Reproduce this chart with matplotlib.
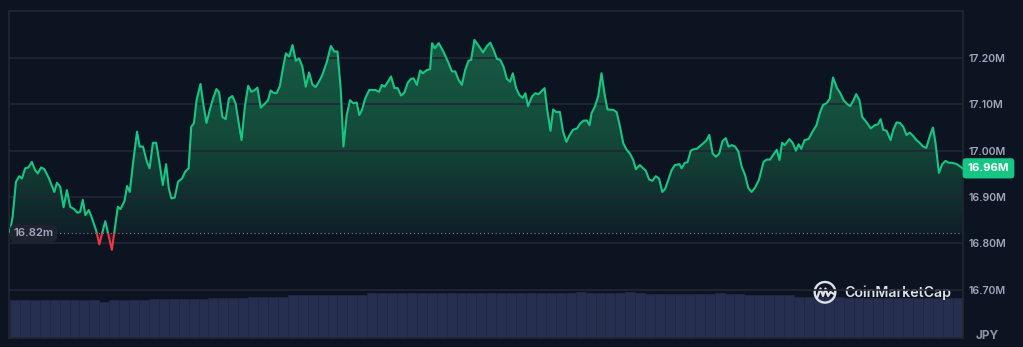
import numpy as np
import matplotlib
matplotlib.use("Agg")
import matplotlib.pyplot as plt
from matplotlib.colors import LinearSegmentedColormap
from matplotlib.patches import Rectangle, Circle
from matplotlib.path import Path
from matplotlib.transforms import blended_transform_factory

# precio en millones de JPY, tiempo en minutos desde el inicio (24 h)
minutes = [0, 4, 9, 14, 18, 23, 28, 33, 38, 42, 47, 52, 59, 67, 71, 76, 81, 86, 91, 97,
           102, 106, 110, 114, 119, 123, 130, 135, 144, 154, 163, 167, 173, 177, 181, 186, 192, 196, 201, 207,
           211, 216, 221, 226, 231, 236, 240, 244, 249, 254, 260, 265, 270, 274, 278, 282, 288, 292, 297, 302,
           307, 312, 316, 321, 326, 331, 336, 341, 345, 350, 355, 360, 365, 370, 374, 379, 385, 390, 394, 398,
           403, 408, 412, 417, 422, 427, 432, 437, 442, 447, 452, 457, 462, 467, 472, 479, 485, 490, 495, 500,
           504, 509, 514, 519, 524, 528, 532, 537, 543, 552, 558, 562, 566, 570, 576, 581, 586, 591, 596, 601,
           606, 610, 615, 620, 624, 630, 635, 638, 642, 648, 655, 662, 668, 673, 678, 683, 688, 693, 697, 702,
           709, 715, 721, 726, 731, 736, 741, 746, 751, 756, 760, 765, 770, 775, 779, 783, 789, 794, 799, 808,
           812, 817, 821, 826, 831, 836, 841, 846, 851, 857, 862, 867, 872, 876, 879, 884, 889, 894, 899, 903,
           912, 917, 922, 927, 932, 937, 942, 946, 952, 957, 961, 966, 971, 976, 981, 986, 990, 995, 1000, 1005,
           1012, 1015, 1020, 1024, 1029, 1033, 1038, 1043, 1048, 1053, 1057, 1062, 1067, 1072, 1077, 1082, 1086, 1091, 1096, 1101,
           1106, 1111, 1116, 1121, 1126, 1132, 1139, 1144, 1149, 1154, 1159, 1163, 1167, 1171, 1178, 1183, 1188, 1192, 1196, 1201,
           1207, 1213, 1219, 1224, 1229, 1234, 1239, 1244, 1250, 1255, 1260, 1265, 1270, 1275, 1279, 1284, 1288, 1295, 1301, 1307,
           1312, 1316, 1320, 1325, 1331, 1335, 1340, 1345, 1350, 1355, 1360, 1365, 1370, 1375, 1380, 1385, 1390, 1395, 1399, 1404,
           1409, 1414, 1419, 1424, 1431, 1440]

precio = [16.825, 16.858, 16.933, 16.945, 16.940, 16.962, 16.964, 16.976, 16.958, 16.951, 16.964, 16.960, 16.940, 16.911, 16.931, 16.922, 16.878, 16.915, 16.879, 16.874,
          16.866, 16.868, 16.894, 16.861, 16.872, 16.858, 16.829, 16.798, 16.848, 16.786, 16.879, 16.874, 16.891, 16.924, 16.911, 16.973, 17.041, 17.009, 17.009, 16.976,
          16.962, 17.017, 17.017, 16.973, 16.926, 16.971, 16.919, 16.897, 16.899, 16.933, 16.940, 16.955, 16.962, 17.052, 17.059, 17.109, 17.144, 17.102, 17.060, 17.088,
          17.113, 17.133, 17.126, 17.073, 17.068, 17.113, 17.118, 17.102, 17.066, 17.023, 17.095, 17.140, 17.127, 17.131, 17.136, 17.093, 17.101, 17.109, 17.130, 17.125,
          17.124, 17.140, 17.174, 17.210, 17.203, 17.228, 17.194, 17.199, 17.181, 17.138, 17.169, 17.143, 17.137, 17.149, 17.163, 17.192, 17.226, 17.214, 17.214, 17.131,
          17.009, 17.077, 17.109, 17.102, 17.104, 17.077, 17.088, 17.113, 17.131, 17.131, 17.127, 17.142, 17.138, 17.146, 17.160, 17.135, 17.135, 17.119, 17.125, 17.146,
          17.155, 17.156, 17.142, 17.173, 17.167, 17.174, 17.176, 17.232, 17.221, 17.232, 17.214, 17.192, 17.171, 17.171, 17.153, 17.142, 17.174, 17.194, 17.196, 17.239,
          17.225, 17.212, 17.226, 17.233, 17.217, 17.198, 17.196, 17.181, 17.155, 17.149, 17.167, 17.135, 17.120, 17.114, 17.124, 17.096, 17.117, 17.124, 17.122, 17.135,
          17.088, 17.043, 17.089, 17.083, 17.084, 17.041, 17.019, 17.034, 17.045, 17.048, 17.059, 17.065, 17.065, 17.055, 17.081, 17.095, 17.117, 17.167, 17.120, 17.089,
          17.088, 17.083, 17.052, 17.016, 17.002, 16.994, 16.980, 16.960, 16.969, 16.962, 16.957, 16.938, 16.935, 16.945, 16.940, 16.911, 16.917, 16.937, 16.958, 16.969,
          16.971, 16.962, 16.974, 16.975, 17.000, 17.003, 17.004, 17.010, 17.016, 17.023, 17.034, 16.994, 16.987, 16.994, 17.021, 17.027, 17.009, 17.012, 17.009, 16.998,
          16.965, 16.948, 16.919, 16.911, 16.920, 16.937, 16.976, 16.981, 16.981, 16.992, 17.002, 16.980, 17.017, 17.012, 17.025, 17.017, 17.000, 17.014, 17.004, 17.023,
          17.025, 17.041, 17.055, 17.081, 17.099, 17.102, 17.112, 17.158, 17.135, 17.124, 17.109, 17.101, 17.096, 17.109, 17.122, 17.109, 17.073, 17.061, 17.048, 17.055,
          17.057, 17.068, 17.045, 17.043, 17.023, 17.045, 17.061, 17.060, 17.052, 17.034, 17.039, 17.032, 17.023, 17.017, 17.009, 17.006, 17.030, 17.050, 17.016, 16.952,
          16.971, 16.978, 16.974, 16.974, 16.971, 16.962]

# volumen (unidades relativas), barras de 15 minutos
volumen = [38.0, 38.1, 37.9, 38.0, 38.0, 38.1, 38.0, 37.9, 38.0, 36.5,
           38.3, 38.2, 38.4, 38.3, 38.7, 38.6, 38.8, 39.0, 39.0, 38.9,
           39.7, 39.6, 39.8, 39.7, 41.3, 41.2, 41.4, 41.3, 43.0, 42.9,
           43.1, 43.0, 43.0, 42.9, 43.2, 43.0, 44.7, 44.6, 44.8, 44.7,
           44.7, 44.6, 44.7, 44.8, 44.7, 44.6, 44.7, 44.7, 44.8, 44.7,
           44.6, 44.7, 44.7, 44.8, 44.6, 44.7, 45.5, 45.6, 45.4, 45.0,
           45.0, 45.5, 45.6, 45.4, 44.0, 44.1, 43.9, 44.0, 44.0, 44.5,
           44.4, 44.6, 44.5, 44.5, 43.0, 43.1, 42.9, 43.0, 43.0, 41.3,
           41.2, 41.4, 41.3, 41.3, 40.3, 40.4, 40.2, 40.3, 40.3, 40.3,
           40.4, 40.3, 40.2, 40.3, 40.3, 40.0]

yticks = [16.70, 16.80, 16.90, 17.00, 17.10, 17.20]
apertura = 16.822
ultimo = 16.962

t = np.array(minutes, dtype=float)
p = np.array(precio)

BG = "#0d1421"
GRID = "#222734"
VERDE = "#16c784"
ROJO = "#ea3943"
GRIS = "#a1a7bb"

plt.rcParams["font.family"] = ["Inter", "DejaVu Sans"]

fig = plt.figure(figsize=(10.23, 3.47), dpi=100, facecolor=BG)
ax = fig.add_axes([9 / 1023, 9 / 347, 953.7 / 1023, 327.3 / 347])
ax.set_facecolor(BG)

ymin, ymax = 16.596, 17.302
xmin, xmax = -1.5, 1440

# volumen en eje gemelo
axv = ax.twinx()
axv.set_zorder(0)
ax.set_zorder(1)
ax.patch.set_visible(False)
t_vol = np.arange(len(volumen)) * 15 + 7.5
axv.bar(t_vol, volumen, width=15, color="#262f50", edgecolor="#1f2743", linewidth=0.6)
axv.set_ylim(0, 327.3)
axv.set_xlim(xmin, xmax)
axv.axis("off")

# relleno degradado sobre la apertura
fb = ax.fill_between(t, p, apertura, where=p >= apertura, interpolate=True,
                     facecolor="none", edgecolor="none")
clip = Path.make_compound_path(*fb.get_paths())
cmap = LinearSegmentedColormap.from_list("g", ["#0f1f27", "#144a3a", "#175a44"])
grad = np.linspace(0, 1, 256).reshape(-1, 1)
im = ax.imshow(grad, extent=[xmin, xmax, apertura, p.max()], origin="lower",
               aspect="auto", cmap=cmap, zorder=1, interpolation="bilinear")
im.set_clip_path(clip, transform=ax.transData)

fb2 = ax.fill_between(t, p, apertura, where=p <= apertura, interpolate=True,
                      facecolor=ROJO, alpha=0.12, edgecolor="none", zorder=1)

# linea verde / roja
arriba = Rectangle((xmin, apertura), xmax - xmin, ymax - apertura, transform=ax.transData)
abajo = Rectangle((xmin, ymin), xmax - xmin, apertura - ymin, transform=ax.transData)
lg, = ax.plot(t, p, color=VERDE, lw=1.5, zorder=3, solid_joinstyle="round")
lg.set_clip_path(arriba)
lr, = ax.plot(t, p, color=ROJO, lw=1.5, zorder=3, solid_joinstyle="round")
lr.set_clip_path(abajo)

ax.axhline(apertura, color="#7d8494", lw=0.8, ls=(0, (1, 2.5)), zorder=2)

ax.set_xlim(xmin, xmax)
ax.set_ylim(ymin, ymax)
ax.set_xticks([])
ax.set_yticks(yticks)
ax.set_yticklabels([f"{v:.2f}M" for v in yticks])
ax.yaxis.tick_right()
ax.tick_params(axis="y", length=0, pad=4.5, labelsize=7.6, labelcolor=GRIS)
for lab in ax.get_yticklabels():
    lab.set_fontweight("semibold")
ax.grid(axis="y", color=GRID, lw=1.2, zorder=0)
for s in ax.spines.values():
    s.set_color(GRID)
    s.set_linewidth(1.2)

tr = blended_transform_factory(ax.transAxes, ax.transData)
ax.text(0.0258, apertura, "16.82m", transform=tr, ha="center", va="center",
        fontsize=8.2, fontweight="semibold", color=GRIS, zorder=5,
        bbox=dict(boxstyle="round,pad=0.32,rounding_size=0.45", facecolor="#1f2330", edgecolor="none"))

ax.annotate(f"{ultimo:.2f}M", xy=(1.0, ultimo), xycoords=tr, xytext=(3.6, 0),
            textcoords="offset points", ha="left", va="center", fontsize=8.2,
            fontweight="bold", color="white", zorder=6, annotation_clip=False,
            bbox=dict(boxstyle="round,pad=0.45,rounding_size=0.3", facecolor=VERDE, edgecolor="none"))

# capa de decoracion en pixeles
ov = fig.add_axes([0, 0, 1, 1])
ov.set_xlim(0, 1023)
ov.set_ylim(347, 0)
ov.axis("off")
ov.patch.set_visible(False)
ov.text(987, 336, "JPY", ha="center", va="center", fontsize=8.5, fontweight="bold", color="#8c93a6")
ov.add_patch(Circle((825, 292.3), 10.3, fill=False, edgecolor="#dfe2e8", lw=1.7))
ov.plot([817.5, 820.5, 823, 825.5, 828, 830.5, 834], [297, 288.5, 296, 288.5, 296, 292, 294],
        color="#dfe2e8", lw=1.6, solid_joinstyle="round", solid_capstyle="round")
ov.text(844, 292.8, "CoinMarketCap", ha="left", va="center", fontsize=10.2,
        fontweight="semibold", color="#dfe2e8")

fig.savefig("out.png", dpi=100, facecolor=BG)
